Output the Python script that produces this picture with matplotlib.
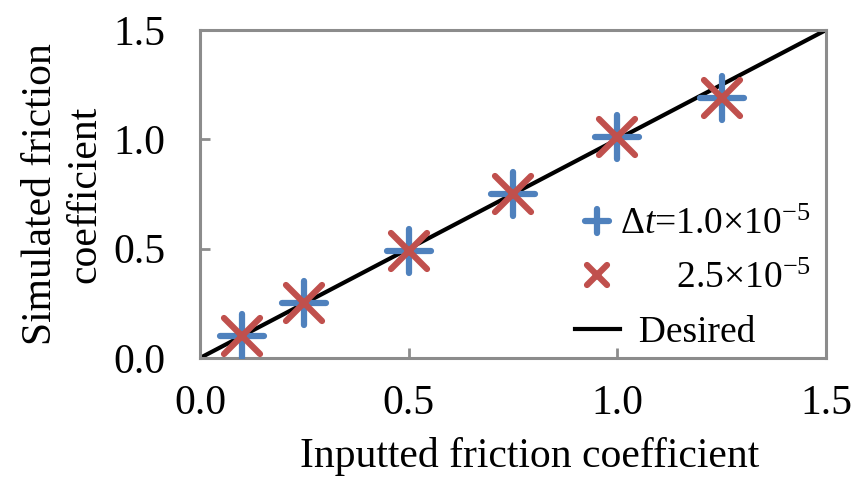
import matplotlib
matplotlib.use("Agg")
import matplotlib.pyplot as plt
from matplotlib.markers import MarkerStyle

plt.rcParams['font.family'] = ['Liberation Serif', 'DejaVu Serif']
plt.rcParams['mathtext.fontset'] = 'custom'
plt.rcParams['mathtext.rm'] = 'Liberation Serif'
plt.rcParams['mathtext.it'] = 'Liberation Serif:italic'

inputted = [0.1, 0.25, 0.5, 0.75, 1.0, 1.25]
sim_dt1 = [0.10, 0.25, 0.49, 0.75, 1.01, 1.19]
sim_dt2 = [0.10, 0.25, 0.49, 0.75, 1.01, 1.19]
desired_x = [0.0, 1.5]
desired_y = [0.0, 1.5]
ticks = [0.0, 0.5, 1.0, 1.5]
tick_labels = ['0.0', '0.5', '1.0', '1.5']

blue = '#4F81BD'
red = '#C0504D'
frame = '#8C8C8C'

fig = plt.figure(figsize=(8.52, 4.84), dpi=100)
ax = fig.add_axes([200/852, 1 - 358/484, 626/852, 328/484])

plus = MarkerStyle('+', capstyle='round')
cross = MarkerStyle('x', capstyle='round')

ax.plot(desired_x, desired_y, color='black', lw=3.0, zorder=2,
        label='  Desired')
ax.plot(inputted, sim_dt1, linestyle='none', marker=plus, ms=32, mew=4.5,
        color=blue, zorder=3, label=r'$\Delta\mathit{t}$=1.0$\times$10$^{-5}$')
ax.plot(inputted, sim_dt2, linestyle='none', marker=cross, ms=26, mew=4.5,
        color=red, zorder=4, label=r'      2.5$\times$10$^{-5}$')

ax.set_xlim(0, 1.5)
ax.set_ylim(0, 1.5)
ax.set_xticks(ticks)
ax.set_xticklabels(tick_labels)
ax.set_yticks(ticks)
ax.set_yticklabels(tick_labels)
ax.tick_params(direction='in', length=7, width=2, color=frame, labelsize=30)
ax.tick_params(axis='x', pad=19)
ax.tick_params(axis='y', pad=25)
for s in ax.spines.values():
    s.set_color(frame)
    s.set_linewidth(2.2)

ax.set_xlabel('Inputted friction coefficient', fontsize=30, labelpad=10)
ax.xaxis.label.set_x(0.527)
ax.set_ylabel('Simulated friction\ncoefficient', fontsize=30, labelpad=6,
              linespacing=1.2)

h, l = ax.get_legend_handles_labels()
order = [1, 2, 0]
ax.legend([h[i] for i in order], [l[i] for i in order], loc='lower right',
          bbox_to_anchor=(1.0, -0.021), frameon=False, fontsize=27,
          markerscale=0.55, handlelength=1.2, handletextpad=0.0,
          labelspacing=0.52, borderaxespad=0.0)

fig.savefig('out.png', dpi=100)
